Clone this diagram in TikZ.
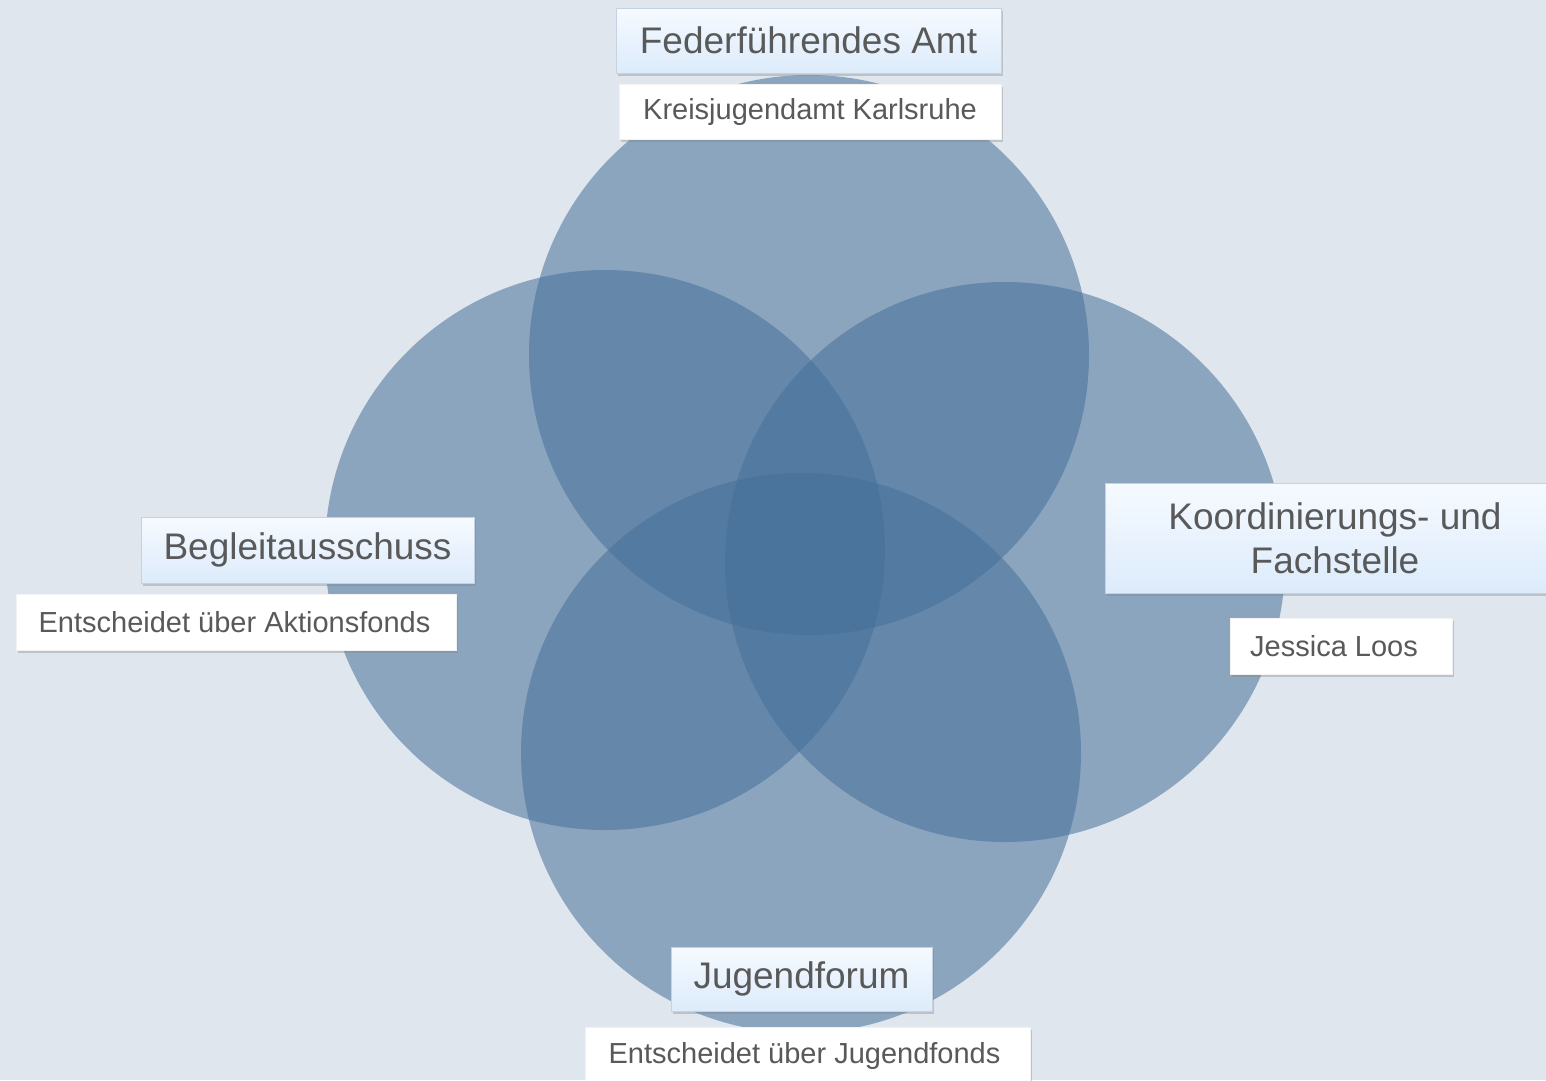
\documentclass[tikz,border=0pt]{standalone}
\usepackage{fontspec}
\setmainfont{Liberation Sans}
\usetikzlibrary{shadows}
\definecolor{bgcol}{RGB}{223,230,238}
\definecolor{circcol}{RGB}{70,112,154}
\definecolor{txtcol}{RGB}{89,89,89}
\definecolor{boxtop}{RGB}{246,250,255}
\definecolor{boxbot}{RGB}{220,235,251}
\definecolor{boxline}{RGB}{196,210,226}
\tikzset{
  venn/.style={circle, minimum size=560pt, inner sep=0pt, fill=circcol, fill opacity=0.55, draw=none},
  titlebox/.style={rectangle, top color=boxtop, bottom color=boxbot, draw=boxline, line width=0.8pt,
    text=txtcol, font=\fontsize{37}{44}\selectfont, align=center, inner sep=0pt,
    drop shadow={opacity=0.35, shadow xshift=2pt, shadow yshift=-3pt}},
  detailbox/.style={rectangle, fill=white, draw=white!90!gray, line width=0.6pt,
    text=txtcol, font=\fontsize{29}{34}\selectfont, align=center, inner sep=0pt,
    drop shadow={opacity=0.35, shadow xshift=2pt, shadow yshift=-3pt}}
}
\begin{document}
\begin{tikzpicture}[x=1pt,y=-1pt]
\useasboundingbox (0,0) rectangle (1546,1080);
\clip (0,0) rectangle (1546,1080);
\fill[bgcol] (0,0) rectangle (1546,1080);
% circles
\node[venn] (cT) at (809,355) {};
\node[venn] (cL) at (605,550) {};
\node[venn] (cR) at (1005,562) {};
\node[venn] (cB) at (801,753) {};
% top
\node[titlebox, minimum width=385pt, minimum height=65pt] (fa) at (808.5,40.5) {Federführendes Amt};
\node[detailbox, minimum width=382pt, minimum height=55pt] (kj) at (810,111.5) {Kreisjugendamt Karlsruhe};
% left
\node[titlebox, minimum width=333pt, minimum height=66pt] (ba) at (307.5,550) {Begleitausschuss};
\node[detailbox, minimum width=440pt, minimum height=56pt] (af) at (236,622) {Entscheidet über Aktionsfonds\hspace*{3pt}};
% right
\node[titlebox, minimum width=460pt, minimum height=110pt] (kf) at (1335,538) {Koordinierungs- und\\Fachstelle};
\node[detailbox, minimum width=222pt, minimum height=56pt] (jl) at (1341,646) {Jessica Loos\hspace*{14pt}};
% bottom
\node[titlebox, minimum width=261pt, minimum height=64pt] (jf) at (801.5,979) {Jugendforum};
\node[detailbox, minimum width=445pt, minimum height=58pt] (jd) at (807.5,1056) {Entscheidet über Jugendfonds\hspace*{6pt}};
\end{tikzpicture}
\end{document}
